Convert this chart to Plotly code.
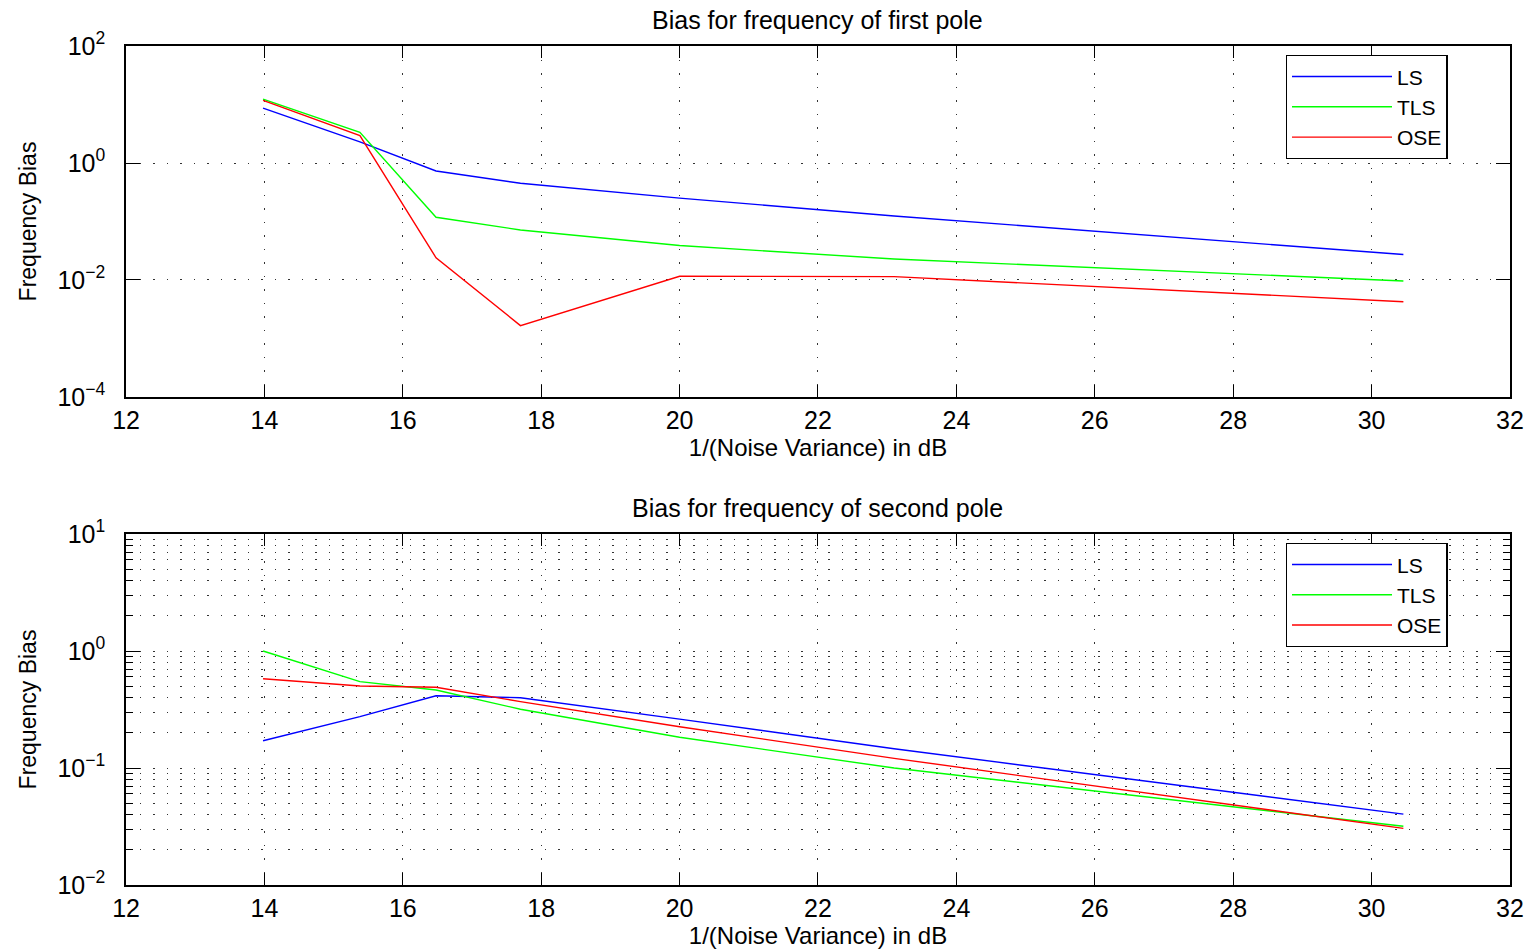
import plotly.graph_objects as go

# 1/(noise variance) in dB
snr_db = [13.98, 15.38, 16.48, 17.70, 20.00, 23.10, 30.46]

# first pole bias
ls_pole1 = [8.7, 2.3, 0.73, 0.45, 0.251, 0.124, 0.0272]
tls_pole1 = [12.4, 3.35, 0.118, 0.0716, 0.0388, 0.0228, 0.0096]
ose_pole1 = [11.8, 2.93, 0.024, 0.00166, 0.0116, 0.0114, 0.00425]

# second pole bias
ls_pole2 = [0.171, 0.275, 0.415, 0.399, 0.262, 0.146, 0.0404]
tls_pole2 = [1.0, 0.547, 0.464, 0.318, 0.183, 0.100, 0.0318]
ose_pole2 = [0.58, 0.502, 0.49, 0.369, 0.2255, 0.121, 0.0305]

series_names = ["LS", "TLS", "OSE"]
series_colors = ["#0000ff", "#00ff00", "#ff0000"]

x_ticks = [12, 14, 16, 18, 20, 22, 24, 26, 28, 30, 32]
top_exps = [-4, -2, 0, 2]
bot_exps = [-2, -1, 0, 1]

FONT = "Liberation Sans, Arial, Helvetica, sans-serif"
TICK_SIZE = 25
TITLE_SIZE = 25

fig = go.Figure()

for name, col, ys in zip(series_names, series_colors, [ls_pole1, tls_pole1, ose_pole1]):
    fig.add_trace(go.Scatter(x=snr_db, y=ys, mode="lines", name=name,
                             line=dict(color=col, width=1.4),
                             xaxis="x", yaxis="y", legend="legend"))
for name, col, ys in zip(series_names, series_colors, [ls_pole2, tls_pole2, ose_pole2]):
    fig.add_trace(go.Scatter(x=snr_db, y=ys, mode="lines", name=name,
                             line=dict(color=col, width=1.4),
                             xaxis="x2", yaxis="y2", legend="legend2"))

def pow_label(e):
    s = str(e).replace("-", "\u2212")
    return f"10<sup>{s}</sup>"

grid_col = "#333333"
grid_dash = "1.5px,12px"

xcommon = dict(range=[12, 32], tickmode="array", tickvals=x_ticks,
               ticks="inside", ticklen=12, tickwidth=1.3, tickcolor="black",
               showline=True, linecolor="black", linewidth=1.6, mirror="ticks",
               showgrid=True, gridcolor=grid_col, griddash=grid_dash, gridwidth=1,
               zeroline=False, automargin=False, ticklabelstandoff=0,
               tickfont=dict(size=TICK_SIZE, color="black", family=FONT),
               title=dict(text="1/(Noise Variance) in dB",
                          font=dict(size=24, color="black", family=FONT), standoff=0))

ycommon = dict(type="log", tickmode="array",
               ticks="inside", ticklen=14, tickwidth=1.3, tickcolor="black",
               showline=True, linecolor="black", linewidth=1.6, mirror="ticks",
               showgrid=True, gridcolor=grid_col, griddash=grid_dash, gridwidth=1,
               zeroline=False, automargin=False, ticklabelstandoff=14,
               tickfont=dict(size=TICK_SIZE, color="black", family=FONT),
               title=dict(text="Frequency Bias", font=dict(size=23, color="black", family=FONT),
                          standoff=14))

legcommon = dict(xanchor="left", yanchor="top",
                 bgcolor="white", bordercolor="black", borderwidth=1.3,
                 font=dict(size=21, color="black", family=FONT),
                 itemwidth=100, entrywidth=180, tracegroupgap=0)

fig.update_layout(
    width=1537, height=949,
    margin=dict(l=0, r=0, t=0, b=0, autoexpand=False),
    paper_bgcolor="white", plot_bgcolor="white",
    font=dict(family=FONT, color="black"),
    xaxis=dict(domain=[0.082, 0.9824], anchor="y", **xcommon),
    xaxis2=dict(domain=[0.082, 0.9824], anchor="y2", **xcommon),
    yaxis=dict(domain=[0.5817, 0.9515], anchor="x", range=[-4, 2],
               tickvals=[10.0 ** e for e in top_exps],
               ticktext=[pow_label(e) for e in top_exps], **ycommon),
    yaxis2=dict(domain=[0.0674, 0.4373], anchor="x2", range=[-2, 1],
                tickvals=[10.0 ** e for e in bot_exps],
                ticktext=[pow_label(e) for e in bot_exps],
                minor=dict(tickmode="array",
                           tickvals=[m * 10.0 ** e for e in bot_exps[:-1] for m in range(2, 10)],
                           ticks="inside", ticklen=7, tickwidth=1, tickcolor="black",
                           showgrid=True, gridcolor=grid_col, griddash=grid_dash, gridwidth=1),
                **ycommon),
    legend=dict(x=0.8365, y=0.942, **legcommon),
    legend2=dict(x=0.8365, y=0.4278, **legcommon),
    showlegend=True,
    annotations=[
        dict(text="Bias for frequency of first pole", x=0.532, y=0.979,
             xref="paper", yref="paper", xanchor="center", yanchor="middle",
             showarrow=False, font=dict(size=TITLE_SIZE, color="black", family=FONT)),
        dict(text="Bias for frequency of second pole", x=0.532, y=0.465,
             xref="paper", yref="paper", xanchor="center", yanchor="middle",
             showarrow=False, font=dict(size=TITLE_SIZE, color="black", family=FONT)),
    ],
)

fig.write_html("out.html")
